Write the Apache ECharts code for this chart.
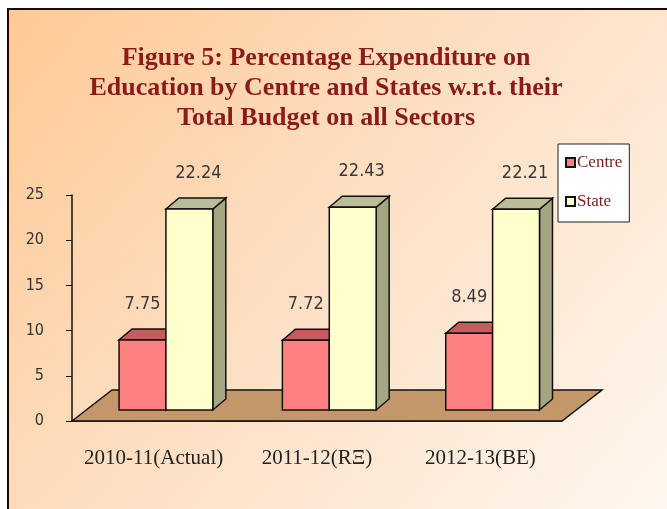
<!DOCTYPE html>
<html>
<head>
<meta charset="utf-8">
<script src="https://cdn.jsdelivr.net/npm/echarts@6/dist/echarts.min.js"></script>
<style>
  html, body { margin: 0; padding: 0; background: #fff; }
  #chart { width: 667px; height: 509px; }
</style>
</head>
<body>
<div id="chart"></div>
<script>
// data
const categories = ['2010-11(Actual)', '2011-12(RΞ)', '2012-13(BE)'];
const centreValues = [7.75, 7.72, 8.49];
const stateValues = [22.24, 22.43, 22.21];
const yTicks = [0, 5, 10, 15, 20, 25];

const DX = 13, DY = -11; // depth of a bar
const SHIFT_Y = -11;      // bars sit a little back on the floor

// one 3D bar: front face, top, side and its value label
function bar3d(leftFrac, colors, labelDx) {
  return function (params, api) {
    const i = api.value(0);
    const v = api.value(1);
    const bw = api.size([1, 0])[0];
    const top = api.coord([i, v]);
    const base = api.coord([i, 0]);
    const x = top[0] - bw / 2 + leftFrac * bw + 1;
    const w = 0.287 * bw;
    const yT = top[1] + SHIFT_Y;
    const yB = base[1] + SHIFT_Y;
    const line = { stroke: '#111', lineWidth: 1.5 };
    return {
      type: 'group',
      children: [
        { type: 'polygon', shape: { points: [[x + w, yT], [x + w + DX, yT + DY], [x + w + DX, yB + DY], [x + w, yB]] },
          style: Object.assign({ fill: colors.side }, line) },
        { type: 'polygon', shape: { points: [[x, yT], [x + DX, yT + DY], [x + w + DX, yT + DY], [x + w, yT]] },
          style: Object.assign({ fill: colors.top }, line) },
        { type: 'rect', shape: { x: x, y: yT, width: w, height: yB - yT },
          style: Object.assign({ fill: colors.front }, line) },
        { type: 'text', x: x + w / 2 + labelDx, y: yT - 36,
          style: { text: String(v.toFixed(2)), fill: '#3a3a3a', font: '18px "DejaVu Sans Condensed", "Liberation Sans", Arial, sans-serif',
                   align: 'center', verticalAlign: 'middle' } }
      ]
    };
  };
}

let myChart = echarts.init(document.getElementById('chart'));
myChart.setOption({
  animation: false,
  graphic: [{
    type: 'rect',
    z: -10,
    shape: { x: 8, y: 9, width: 720, height: 600 },
    style: {
      stroke: '#1a0a05', lineWidth: 2,
      fill: new echarts.graphic.LinearGradient(0, 0, 1, 1, [
        { offset: 0, color: '#FFC995' },
        { offset: 0.45, color: '#FDE1C6' },
        { offset: 1, color: '#FFFDFB' }
      ])
    }
  }],
  title: {
    text: 'Figure 5: Percentage Expenditure on\nEducation by Centre and States w.r.t. their\nTotal Budget on all Sectors',
    left: 321,
    top: 38,
    textAlign: 'center',
    textStyle: {
      fontFamily: '"Liberation Serif", "Times New Roman", serif',
      fontWeight: 'bold',
      fontSize: 26,
      lineHeight: 30,
      color: '#8B1A1A'
    }
  },
  legend: {
    orient: 'vertical',
    left: 558,
    top: 144,
    data: ['Centre', 'State'],
    backgroundColor: '#fff',
    borderColor: '#222',
    borderWidth: 1,
    padding: [10, 7, 12, 7],
    itemWidth: 9,
    itemHeight: 9,
    itemGap: 22,
    icon: 'rect',
    textStyle: {
      fontFamily: '"Liberation Serif", "Times New Roman", serif',
      fontSize: 17,
      color: '#7A1C1C',
      padding: [0, 0, 0, -3]
    }
  },
  grid: { left: 72, right: 105, top: 195, bottom: 88 },
  xAxis: {
    type: 'category',
    data: categories,
    axisLine: { lineStyle: { color: '#111', width: 1.5 } },
    axisTick: { length: 6, lineStyle: { color: '#111' } },
    axisLabel: {
      interval: 0,
      hideOverlap: false,
      margin: 27,
      fontFamily: '"Liberation Serif", "Times New Roman", serif',
      fontSize: 21,
      color: '#222'
    }
  },
  yAxis: {
    type: 'value',
    min: yTicks[0],
    max: yTicks[yTicks.length - 1],
    interval: 5,
    splitLine: { show: false },
    axisLine: { show: true, lineStyle: { color: '#111', width: 1.5 } },
    axisTick: { show: true, length: 6, lineStyle: { color: '#111' } },
    axisLabel: {
      margin: 28,
      fontFamily: '"DejaVu Sans Condensed", "Liberation Sans", Arial, sans-serif',
      fontSize: 16,
      color: '#333'
    }
  },
  series: [
    {
      name: 'floor',
      type: 'custom',
      z: 1,
      data: [[0, 0]],
      renderItem: function (params, api) {
        const bw = api.size([1, 0])[0];
        const p0 = api.coord([0, 0]);
        const p1 = api.coord([categories.length - 1, 0]);
        const x0 = p0[0] - bw / 2, x1 = p1[0] + bw / 2, y = p0[1];
        return {
          type: 'polygon',
          shape: { points: [[x0, y], [x0 + 40, y - 31], [x1 + 40, y - 31], [x1, y]] },
          style: { fill: '#C4976B', stroke: '#111', lineWidth: 1.5 }
        };
      }
    },
    {
      name: 'Centre',
      type: 'custom',
      z: 3,
      itemStyle: { color: '#FF8080', borderColor: '#111', borderWidth: 1.5 },
      data: centreValues.map((v, i) => [i, v]),
      renderItem: bar3d(0.282, { front: '#FF8080', top: '#C85C5C', side: '#B04848' }, 0)
    },
    {
      name: 'State',
      type: 'custom',
      z: 3,
      itemStyle: { color: '#FFFFCC', borderColor: '#111', borderWidth: 1.5 },
      data: stateValues.map((v, i) => [i, v]),
      renderItem: bar3d(0.569, { front: '#FFFFCC', top: '#B9BC98', side: '#A4A682' }, 9)
    }
  ]
});
</script>
</body>
</html>
